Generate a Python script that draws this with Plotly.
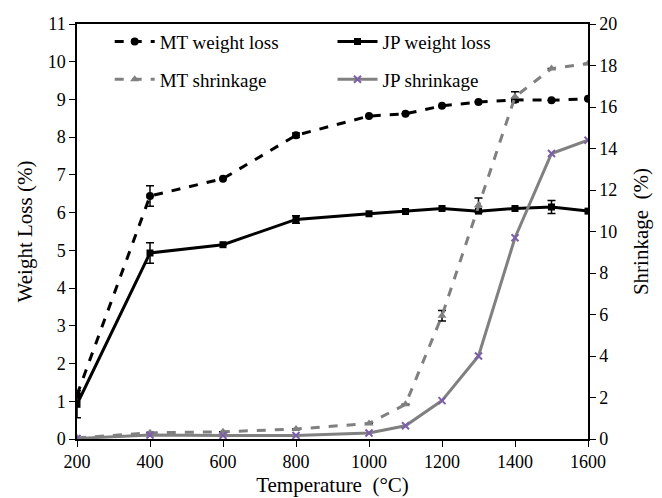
import plotly.graph_objects as go

temperature = [200, 400, 600, 800, 1000, 1100, 1200, 1300, 1400, 1500, 1600]

mt_weight_loss = [1.17, 6.44, 6.90, 8.05, 8.56, 8.62, 8.83, 8.93, 8.99, 8.98, 9.02]
mt_weight_err = [0.0, 0.27, 0.0, 0.06, 0.0, 0.0, 0.0, 0.0, 0.0, 0.0, 0.0]

jp_weight_loss = [0.92, 4.93, 5.15, 5.82, 5.97, 6.03, 6.11, 6.04, 6.11, 6.15, 6.04]
jp_weight_err = [0.36, 0.27, 0.0, 0.1, 0.0, 0.0, 0.0, 0.0, 0.0, 0.17, 0.0]

mt_shrinkage = [0.05, 0.30, 0.35, 0.48, 0.75, 1.67, 5.94, 11.27, 16.49, 17.85, 18.10]
mt_shrink_err = [0.0, 0.0, 0.0, 0.0, 0.0, 0.0, 0.25, 0.35, 0.25, 0.0, 0.0]

jp_shrinkage = [0.03, 0.19, 0.17, 0.17, 0.29, 0.64, 1.85, 4.00, 9.70, 13.76, 14.40]

x_ticks = [200, 400, 600, 800, 1000, 1200, 1400, 1600]
y1_ticks = list(range(0, 12))
y2_ticks = list(range(0, 21, 2))

FONT = "Liberation Serif, Times New Roman, serif"

fig = go.Figure()

fig.add_trace(go.Scatter(
    x=temperature, y=mt_weight_loss, name="MT weight loss", mode="lines+markers",
    legend="legend", legendgroup="a",
    line=dict(color="black", width=3, dash="dash"),
    marker=dict(symbol="circle", size=8, color="black"),
    error_y=dict(type="data", array=mt_weight_err, color="black", thickness=1.5, width=4),
))
fig.add_trace(go.Scatter(
    x=temperature, y=jp_weight_loss, name="JP weight loss", mode="lines+markers",
    legend="legend2", legendgroup="b",
    line=dict(color="black", width=3),
    marker=dict(symbol="square", size=7, color="black"),
    error_y=dict(type="data", array=jp_weight_err, color="black", thickness=1.5, width=4),
))
fig.add_trace(go.Scatter(
    x=temperature, y=mt_shrinkage, name="MT shrinkage", mode="lines+markers", yaxis="y2",
    legend="legend", legendgroup="c",
    line=dict(color="#808080", width=3, dash="dash"),
    marker=dict(symbol="triangle-up", size=8, color="#808080"),
    error_y=dict(type="data", array=mt_shrink_err, color="black", thickness=1.5, width=4),
))
fig.add_trace(go.Scatter(
    x=temperature, y=jp_shrinkage, name="JP shrinkage", mode="lines+markers", yaxis="y2",
    legend="legend2", legendgroup="d",
    line=dict(color="#808080", width=3),
    marker=dict(symbol="x-thin", size=7, color="#7b5fa8", line=dict(width=2, color="#7b5fa8")),
))

leg_common = dict(
    orientation="v", xanchor="left", yanchor="top",
    bgcolor="rgba(0,0,0,0)", font=dict(family=FONT, size=19),
    itemwidth=40, tracegroupgap=10,
)

fig.update_layout(
    width=662, height=498,
    margin=dict(l=69, r=82, t=16, b=67, autoexpand=False),
    paper_bgcolor="white", plot_bgcolor="white",
    font=dict(family=FONT, size=18, color="black"),
    showlegend=True,
    legend=dict(x=0.064, y=1.003, **leg_common),
    legend2=dict(x=0.5, y=1.003, **leg_common),
    xaxis=dict(
        range=[200, 1600], tickvals=x_ticks, showgrid=False, zeroline=False,
        showline=True, linecolor="black", linewidth=1.5, mirror=True,
        ticks="outside", ticklen=6, tickcolor="black", automargin=False,
        title=dict(text="Temperature  (°C)", font=dict(size=21), standoff=6),
        tickfont=dict(size=18),
    ),
    yaxis=dict(
        range=[0, 11], tickvals=y1_ticks, showgrid=False, zeroline=False,
        showline=True, linecolor="black", linewidth=1.5,
        ticks="outside", ticklen=6, tickcolor="black", automargin=False,
        title=dict(text="Weight Loss (%)", font=dict(size=21), standoff=9),
        tickfont=dict(size=18),
    ),
    yaxis2=dict(
        range=[0, 20], tickvals=y2_ticks, overlaying="y", side="right",
        showgrid=False, zeroline=False,
        showline=True, linecolor="black", linewidth=1.5,
        ticks="outside", ticklen=6, tickcolor="black", automargin=False,
        title=dict(text="Shrinkage  (%)", font=dict(size=21), standoff=17),
        tickfont=dict(size=18),
    ),
)

fig.write_html("out.html")
